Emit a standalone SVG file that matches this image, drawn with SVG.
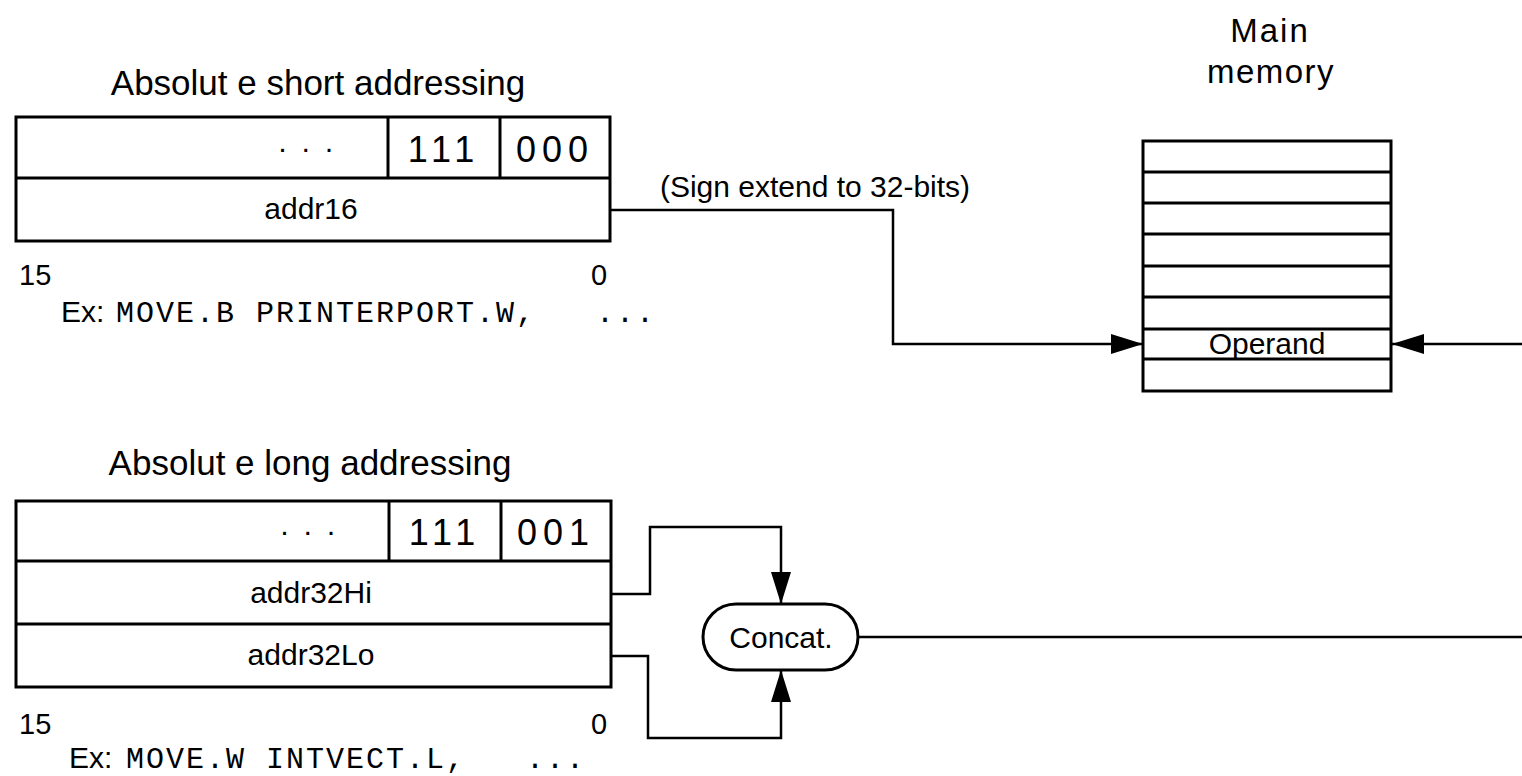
<svg xmlns="http://www.w3.org/2000/svg" width="1522" height="776" viewBox="0 0 1522 776">
<defs>
<style>
.box{fill:#fff;stroke:#000;stroke-width:3}
.ln{fill:none;stroke:#000;stroke-width:3}
.conn{fill:none;stroke:#000;stroke-width:2.5}
.t{font-family:"Liberation Sans",Arial,Helvetica,sans-serif;fill:#000}
.title{font-size:35px;text-anchor:middle}
.lab{font-size:30px;text-anchor:middle}
.bits{font-size:36px;text-anchor:middle;letter-spacing:6px}
.dots{font-size:30px;text-anchor:middle;letter-spacing:2.5px}
.num{font-size:29px}
.ex{white-space:pre}
.mono{font-family:"Liberation Mono","Courier New",monospace;font-size:30px;letter-spacing:2px;fill:#000}
</style>
<marker id="ah" viewBox="0 0 32 20" refX="32" refY="10" markerWidth="32" markerHeight="20" markerUnits="userSpaceOnUse" orient="auto">
<path d="M0,0 L32,10 L0,20 Z" fill="#000"/>
</marker>
</defs>
<rect width="1522" height="776" fill="#fff"/>

<g id="short-title"><text class="t title" x="318" y="95">Absolut e short addressing</text></g>

<g id="short-box">
<rect class="box" x="16" y="117" width="594" height="124"/>
<line class="ln" x1="16" y1="178" x2="610" y2="178"/>
<line class="ln" x1="388" y1="117" x2="388" y2="178"/>
<line class="ln" x1="500" y1="117" x2="500" y2="178"/>
<text class="t dots" x="307" y="158">· · ·</text>
<text class="t bits" x="444" y="162">111</text>
<text class="t bits" x="555" y="162">000</text>
<text class="t lab" x="311" y="219">addr16</text>
<text class="t num" x="19" y="285">15</text>
<text class="t num" x="591" y="285">0</text>
<text class="ex" xml:space="preserve" x="61" y="322"><tspan class="t" font-size="30px">Ex:</tspan><tspan class="mono" x="116">MOVE.B PRINTERPORT.W,   ...</tspan></text>
</g>

<g id="sign-label"><text class="t lab" font-size="31px" x="815" y="197">(Sign extend to 32-bits)</text></g>

<g id="main-memory">
<text class="t" font-size="33px" text-anchor="middle" letter-spacing="2px" x="1270" y="42">Main</text>
<text class="t" font-size="33px" text-anchor="middle" letter-spacing="1.5px" x="1271" y="83">memory</text>
<rect class="box" x="1143" y="141" width="248" height="250"/>
<line class="ln" x1="1143" y1="172" x2="1391" y2="172"/>
<line class="ln" x1="1143" y1="203" x2="1391" y2="203"/>
<line class="ln" x1="1143" y1="234" x2="1391" y2="234"/>
<line class="ln" x1="1143" y1="266" x2="1391" y2="266"/>
<line class="ln" x1="1143" y1="297" x2="1391" y2="297"/>
<line class="ln" x1="1143" y1="329" x2="1391" y2="329"/>
<line class="ln" x1="1143" y1="359" x2="1391" y2="359"/>
<text class="t lab" x="1267" y="354">Operand</text>
</g>

<g id="long-title"><text class="t title" x="310" y="475">Absolut e long addressing</text></g>

<g id="long-box">
<rect class="box" x="16" y="501" width="595" height="186"/>
<line class="ln" x1="16" y1="561" x2="611" y2="561"/>
<line class="ln" x1="16" y1="624" x2="611" y2="624"/>
<line class="ln" x1="389" y1="501" x2="389" y2="561"/>
<line class="ln" x1="501" y1="501" x2="501" y2="561"/>
<text class="t dots" x="309" y="541">· · ·</text>
<text class="t bits" x="445" y="545">111</text>
<text class="t bits" x="556" y="545">001</text>
<text class="t lab" x="311" y="603">addr32Hi</text>
<text class="t lab" x="311" y="665">addr32Lo</text>
<text class="t num" x="19" y="734">15</text>
<text class="t num" x="591" y="734">0</text>
<text class="ex" xml:space="preserve" x="69" y="768"><tspan class="t" font-size="30px">Ex:</tspan><tspan class="mono" x="126">MOVE.W INTVECT.L,   ...</tspan></text>
</g>

<g id="concat">
<rect class="box" x="703" y="604" width="155" height="66" rx="33" ry="33" stroke-width="2.5"/>
<text class="t lab" x="781" y="648">Concat.</text>
</g>

<g id="connectors">
<path class="conn" d="M610,210 H893 V344 H1143" marker-end="url(#ah)"/>
<path class="conn" d="M1522,344 H1392" marker-end="url(#ah)"/>
<path class="conn" d="M611,594 H650 V527 H781 V604" marker-end="url(#ah)"/>
<path class="conn" d="M611,656 H648 V738 H781 V670" marker-end="url(#ah)"/>
<path class="conn" d="M858,637 H1522"/>
</g>
</svg>
